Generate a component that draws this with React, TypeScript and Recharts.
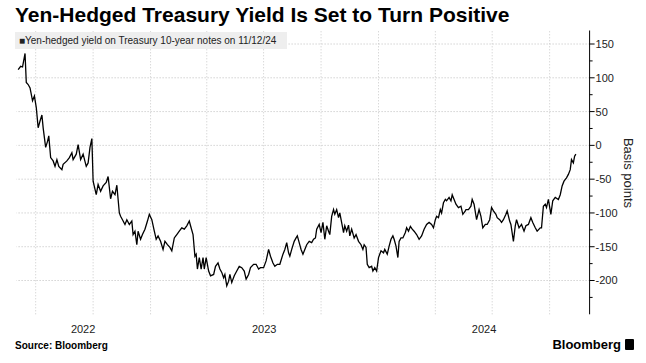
import { LineChart, Line, XAxis, YAxis, ReferenceLine } from "recharts";

// daily-ish readings, Jun 2022 .. Nov 12 2024 (basis points)
const dates2022 = [
  "06-03", "06-07", "06-10", "06-14", "06-16", "06-19", "06-22", "06-26", "06-29", "07-02",
  "07-05", "07-08", "07-11", "07-13", "07-17", "07-20", "07-22", "07-25", "07-29", "08-01",
  "08-04", "08-07", "08-12", "08-14", "08-20", "08-24", "08-28", "08-30", "09-04", "09-07",
  "09-11", "09-15", "09-20", "09-23", "09-26", "09-29", "10-01", "10-06", "10-09", "10-13",
  "10-17", "10-22", "10-25", "10-29", "11-01", "11-05", "11-08", "11-12", "11-14", "11-17",
  "11-21", "11-24", "11-28", "12-02", "12-04", "12-07", "12-10", "12-12", "12-16", "12-19",
  "12-23", "12-27", "12-30",
];
const values2022 = [
  112, 117, 116, 136, 93, 90, 85, 66, 73, 56,
  26, 36, 45, 26, -3, 6, 14, -18, -23, -31,
  -21, -31, -36, -28, -23, -18, -11, -21, -13, 1,
  -21, -13, -31, -26, -3, 10, -53, -73, -58, -68,
  -60, -55, -46, -79, -68, -73, -59, -100, -105, -110,
  -117, -110, -117, -112, -132, -127, -147, -127, -139, -132,
  -124, -112, -102,
];

const dates2023 = [
  "01-03", "01-07", "01-10", "01-13", "01-17", "01-21", "01-24", "01-28", "02-01", "02-04",
  "02-08", "02-12", "02-16", "02-20", "02-24", "02-28", "03-04", "03-06", "03-10", "03-13",
  "03-15", "03-17", "03-20", "03-23", "03-26", "03-28", "03-31", "04-04", "04-07", "04-12",
  "04-15", "04-19", "04-22", "04-25", "04-28", "04-30", "05-03", "05-06", "05-08", "05-11",
  "05-15", "05-19", "05-23", "05-27", "05-31", "06-03", "06-07", "06-10", "06-15", "06-19",
  "06-23", "06-26", "07-01", "07-05", "07-09", "07-12", "07-16", "07-19", "07-23", "07-27",
  "08-01", "08-04", "08-07", "08-10", "08-12", "08-15", "08-19", "08-22", "08-24", "08-27",
  "08-30", "09-02", "09-05", "09-08", "09-12", "09-16", "09-19", "09-22", "09-24", "09-28",
  "10-01", "10-04", "10-07", "10-10", "10-13", "10-15", "10-18", "10-21", "10-23", "10-26",
  "10-29", "10-31", "11-04", "11-06", "11-08", "11-11", "11-14", "11-16", "11-19", "11-23",
  "11-26", "11-30", "12-04", "12-07", "12-09", "12-12", "12-14", "12-17", "12-21", "12-23",
  "12-26", "12-29",
];
const values2023 = [
  -110, -127, -139, -134, -142, -154, -142, -147, -151, -156,
  -137, -132, -127, -122, -124, -119, -112, -119, -132, -164,
  -161, -183, -166, -183, -166, -183, -166, -186, -193, -191,
  -179, -174, -183, -188, -196, -191, -208, -201, -191, -203,
  -193, -186, -179, -181, -186, -198, -191, -181, -176, -176,
  -183, -181, -181, -171, -154, -164, -174, -179, -176, -176,
  -161, -154, -144, -159, -164, -154, -142, -137, -134, -144,
  -154, -161, -154, -147, -142, -144, -139, -137, -124, -117,
  -129, -114, -139, -119, -127, -132, -105, -95, -102, -95,
  -107, -100, -119, -129, -119, -127, -118, -134, -124, -137,
  -132, -142, -147, -154, -147, -151, -176, -181, -179, -186,
  -181, -186,
];

const dates2024 = [
  "01-01", "01-05", "01-09", "01-11", "01-15", "01-18", "01-21", "01-24", "01-26", "01-29",
  "02-01", "02-03", "02-06", "02-09", "02-13", "02-15", "02-18", "02-21", "02-24", "02-27",
  "03-02", "03-06", "03-10", "03-14", "03-18", "03-22", "03-26", "03-29", "04-01", "04-03",
  "04-06", "04-09", "04-11", "04-14", "04-17", "04-19", "04-23", "04-26", "04-28", "05-01",
  "05-04", "05-08", "05-12", "05-15", "05-19", "05-20", "05-24", "05-28", "05-30", "06-02",
  "06-06", "06-10", "06-13", "06-16", "06-20", "06-23", "06-27", "06-30", "07-03", "07-07",
  "07-09", "07-13", "07-16", "07-19", "07-23", "07-25", "07-29", "07-31", "08-04", "08-07",
  "08-09", "08-13", "08-17", "08-21", "08-24", "08-28", "09-01", "09-04", "09-08", "09-11",
  "09-16", "09-18", "09-21", "09-24", "09-26", "09-29", "10-03", "10-06", "10-10", "10-15",
  "10-18", "10-21", "10-24", "10-28", "10-31", "11-03", "11-05", "11-08", "11-10", "11-12",
];
const values2024 = [
  -166, -156, -159, -154, -161, -149, -139, -134, -139, -149,
  -166, -142, -137, -137, -129, -122, -127, -120, -124, -127,
  -132, -139, -134, -124, -117, -114, -117, -122, -110, -105,
  -107, -95, -100, -85, -80, -82, -77, -82, -73, -80,
  -87, -92, -90, -102, -97, -95, -95, -90, -80, -87,
  -110, -95, -105, -122, -117, -117, -110, -92, -97, -102,
  -107, -110, -114, -110, -102, -97, -112, -117, -142, -119,
  -110, -122, -117, -127, -119, -117, -107, -114, -122, -127,
  -122, -122, -90, -87, -92, -80, -102, -82, -77, -80,
  -73, -60, -53, -48, -43, -36, -21, -26, -16, -13,
];

const yearLabels = ["2022", "2023", "2024"];
// labels sit in the middle of the visible part of each year
const yearLabelDates = ["2022-09-15", "2023-07-02", "2024-06-18"];
const quarterDates = [
  "2022-07-01", "2022-10-01", "2023-01-01", "2023-04-01", "2023-07-01",
  "2023-10-01", "2024-01-01", "2024-04-01", "2024-07-01", "2024-10-01",
];
const yTicks = [-225, -200, -175, -150, -125, -100, -75, -50, -25, 0, 25, 50, 75, 100, 125, 150];
const yMajor = [-200, -150, -100, -50, 0, 50, 100, 150];

const toTime = (s: string) => Date.parse(s + "T00:00:00Z");

const rows = [
  ...dates2022.map((d, i) => ({ t: toTime("2022-" + d), v: values2022[i] })),
  ...dates2023.map((d, i) => ({ t: toTime("2023-" + d), v: values2023[i] })),
  ...dates2024.map((d, i) => ({ t: toTime("2024-" + d), v: values2024[i] })),
];

const yearTicks = yearLabelDates.map(toTime);
const font = "'Liberation Sans', Arial, sans-serif";

function YTick(props: any) {
  const { x, y, payload } = props;
  const major = payload.value % 50 === 0;
  return (
    <g>
      <line x1={x} x2={x + (major ? 5 : 3)} y1={y} y2={y} stroke="#000" strokeWidth={1} />
      {major && (
        <text x={x + 6} y={y} dy="0.36em" fontSize={11} fill="#222" fontFamily={font}>
          {payload.value}
        </text>
      )}
    </g>
  );
}

export default function App() {
  return (
    <div
      style={{
        position: "absolute",
        left: 0,
        top: 0,
        width: 646,
        height: 363,
        background: "#fff",
        overflow: "hidden",
        fontFamily: font,
      }}
    >
      <div
        style={{
          position: "absolute",
          left: 15,
          top: 3,
          fontSize: 21,
          fontWeight: 700,
          color: "#000",
          whiteSpace: "nowrap",
        }}
      >
        Yen-Hedged Treasury Yield Is Set to Turn Positive
      </div>

      <LineChart
        width={646}
        height={363}
        data={rows}
        margin={{ top: 30.5, right: 16.4, left: 16.3, bottom: 18.7 }}
      >
        <XAxis
          dataKey="t"
          type="number"
          scale="linear"
          domain={[toTime("2022-05-31"), toTime("2024-12-04")]}
          ticks={yearTicks}
          tickFormatter={(t: number) => yearLabels[yearTicks.indexOf(t)]}
          axisLine={false}
          tickLine={false}
          tickSize={0}
          tickMargin={11}
          height={30}
          tick={{ fontSize: 11, fill: "#222", fontFamily: font }}
        />
        <YAxis
          orientation="right"
          type="number"
          domain={[-250, 170]}
          ticks={yTicks}
          width={40}
          axisLine={{ stroke: "#000" }}
          tickLine={false}
          tickSize={0}
          tickMargin={0}
          tick={<YTick />}
          interval={0}
        />
        {quarterDates.map((d) => (
          <ReferenceLine key={d} x={toTime(d)} stroke="#c9c9c9" strokeDasharray="1 2" />
        ))}
        {yMajor.map((v) => (
          <ReferenceLine key={v} y={v} stroke="#bdbdbd" strokeDasharray="1 2" />
        ))}
        <Line
          type="linear"
          dataKey="v"
          stroke="#000"
          strokeWidth={1.3}
          dot={false}
          isAnimationActive={false}
        />
      </LineChart>

      <div
        style={{
          position: "absolute",
          left: 15,
          top: 32,
          width: 272,
          height: 17,
          background: "#eeeeee",
          fontSize: 10,
          lineHeight: "17px",
          color: "#222",
          whiteSpace: "nowrap",
          paddingLeft: 4,
          boxSizing: "border-box",
        }}
      >
        ■Yen-hedged yield on Treasury 10-year notes on 11/12/24
      </div>

      <div
        style={{
          position: "absolute",
          left: 628,
          top: 173,
          transform: "translate(-50%, -50%) rotate(90deg)",
          fontSize: 13,
          color: "#222",
          whiteSpace: "nowrap",
        }}
      >
        Basis points
      </div>

      <div
        style={{
          position: "absolute",
          left: 15,
          top: 340,
          fontSize: 10,
          fontWeight: 700,
          color: "#000",
        }}
      >
        Source: Bloomberg
      </div>
      <div
        style={{
          position: "absolute",
          right: 12,
          top: 337,
          fontSize: 13,
          fontWeight: 700,
          color: "#000",
          display: "flex",
          alignItems: "center",
          gap: 4,
        }}
      >
        Bloomberg
        <span
          style={{
            display: "inline-block",
            width: 9,
            height: 11,
            background: "#000",
            borderRadius: 1,
          }}
        />
      </div>
    </div>
  );
}
